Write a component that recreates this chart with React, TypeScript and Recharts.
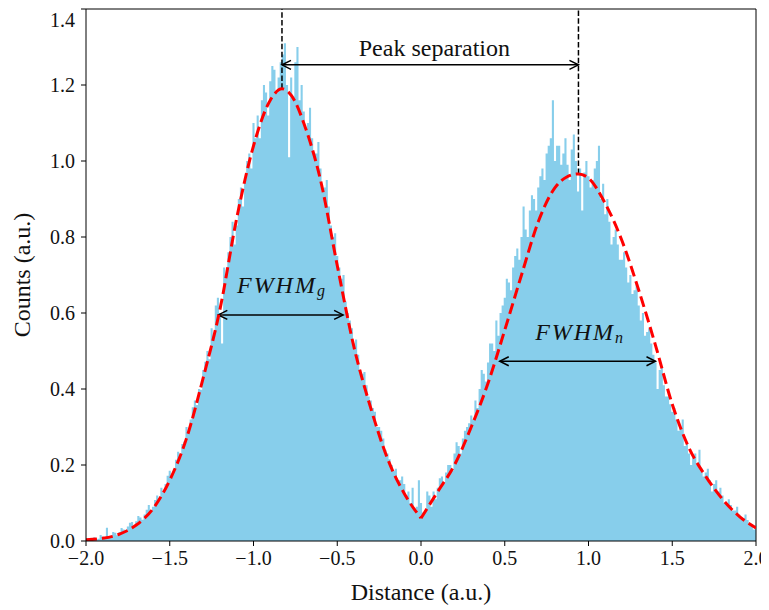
import { ComposedChart, Area, Line, XAxis, YAxis, ReferenceLine, ReferenceDot } from 'recharts';

// histogram: bin centres from -2.0 to 2.0, step 0.0125
const histStart = -2;
const histStep = 0.0125;
const histCounts = [
  0.006, 0.003, 0.004, 0.008, 0.010, 0.004, 0.006, 0.016, 0.012, 0.006,
  0.035, 0.012, 0.014, 0.024, 0.022, 0.015, 0.024, 0.034, 0.030, 0.026,
  0.038, 0.048, 0.050, 0.040, 0.052, 0.066, 0.062, 0.056, 0.070, 0.082,
  0.095, 0.080, 0.090, 0.108, 0.120, 0.112, 0.140, 0.128, 0.150, 0.172,
  0.185, 0.168, 0.190, 0.214, 0.235, 0.222, 0.255, 0.262, 0.300, 0.288,
  0.320, 0.352, 0.370, 0.358, 0.400, 0.398, 0.450, 0.472, 0.500, 0.478,
  0.560, 0.540, 0.620, 0.640, 0.600, 0.520, 0.720, 0.700, 0.760, 0.800,
  0.840, 0.780, 0.830, 0.900, 0.930, 0.880, 0.950, 1.000, 1.020, 0.980,
  1.100, 1.060, 1.120, 1.060, 1.160, 1.200, 1.180, 1.120, 1.210, 1.250,
  1.240, 1.180, 1.220, 1.260, 1.280, 1.310, 1.200, 1.010, 1.220, 1.170,
  1.260, 1.300, 1.160, 1.200, 1.130, 1.080, 1.100, 1.140, 1.060, 1.020,
  1.020, 1.050, 0.980, 0.920, 0.930, 0.950, 0.880, 0.830, 0.800, 0.810,
  0.750, 0.720, 0.690, 0.700, 0.630, 0.600, 0.580, 0.560, 0.520, 0.530,
  0.490, 0.450, 0.440, 0.445, 0.410, 0.380, 0.370, 0.350, 0.340, 0.300,
  0.300, 0.290, 0.270, 0.240, 0.230, 0.215, 0.200, 0.185, 0.190, 0.160,
  0.160, 0.170, 0.150, 0.120, 0.130, 0.100, 0.140, 0.085, 0.090, 0.160,
  0.100, 0.075, 0.080, 0.130, 0.120, 0.090, 0.130, 0.110, 0.140, 0.165,
  0.170, 0.150, 0.180, 0.200, 0.200, 0.185, 0.230, 0.260, 0.250, 0.230,
  0.270, 0.290, 0.300, 0.310, 0.330, 0.320, 0.370, 0.350, 0.400, 0.450,
  0.440, 0.420, 0.470, 0.520, 0.520, 0.500, 0.580, 0.540, 0.600, 0.620,
  0.640, 0.690, 0.680, 0.660, 0.720, 0.750, 0.770, 0.740, 0.800, 0.880,
  0.820, 0.800, 0.870, 0.910, 0.900, 0.870, 0.930, 0.960, 0.980, 0.950,
  1.020, 1.040, 1.060, 1.160, 1.000, 1.040, 1.040, 0.990, 1.020, 1.060,
  0.990, 0.950, 1.030, 1.070, 1.000, 0.920, 0.980, 0.870, 0.970, 1.000,
  0.960, 0.930, 0.950, 0.980, 1.000, 1.040, 0.900, 0.940, 0.860, 0.900,
  0.840, 0.780, 0.800, 0.820, 0.780, 0.740, 0.740, 0.760, 0.720, 0.680,
  0.700, 0.650, 0.660, 0.680, 0.620, 0.580, 0.600, 0.540, 0.550, 0.560,
  0.520, 0.490, 0.470, 0.400, 0.450, 0.460, 0.410, 0.380, 0.380, 0.360,
  0.340, 0.350, 0.320, 0.290, 0.300, 0.320, 0.250, 0.260, 0.230, 0.200,
  0.220, 0.230, 0.200, 0.240, 0.190, 0.170, 0.180, 0.190, 0.160, 0.130,
  0.150, 0.160, 0.130, 0.140, 0.120, 0.100, 0.100, 0.110, 0.095, 0.080,
  0.080, 0.090, 0.070, 0.060, 0.060, 0.070, 0.055, 0.045, 0.045, 0.030,
  0.040,
];

// fitted curve, left and right halves meet at the valley
const fitLeftX = [-2.0, -1.9, -1.8, -1.7, -1.6, -1.5, -1.4, -1.3, -1.2, -1.1, -1.0, -0.9, -0.83, -0.75, -0.7, -0.6, -0.5, -0.4, -0.3, -0.2, -0.1, 0];
const fitLeftY = [0.003, 0.007, 0.018, 0.042, 0.085, 0.16, 0.27, 0.43, 0.61, 0.85, 1.04, 1.16, 1.19, 1.155, 1.10, 0.95, 0.725, 0.51, 0.35, 0.217, 0.125, 0.06];
const fitRightX = [0, 0.1, 0.2, 0.3, 0.4, 0.5, 0.6, 0.7, 0.8, 0.87, 0.94, 1.0, 1.1, 1.2, 1.3, 1.4, 1.5, 1.6, 1.7, 1.8, 1.9, 2.0];
const fitRightY = [0.06, 0.13, 0.20, 0.30, 0.415, 0.555, 0.70, 0.84, 0.93, 0.958, 0.966, 0.955, 0.888, 0.79, 0.66, 0.515, 0.36, 0.245, 0.17, 0.11, 0.065, 0.034];

// annotations
const peakG = { x: -0.83, y: 1.19 };
const peakN = { x: 0.94, y: 0.966 };
const sepArrowY = 1.253;
const fwhmG = { x1: -1.21, x2: -0.465, y: 0.595 };
const fwhmN = { x1: 0.47, x2: 1.4, y: 0.473 };
const xTicks = [-2, -1.5, -1, -0.5, 0, 0.5, 1, 1.5, 2];
const yTicks = [0, 0.2, 0.4, 0.6, 0.8, 1.0, 1.2, 1.4];

const FONT = '"Liberation Serif", "DejaVu Serif", serif';

const histData = histCounts.map((c, i) => ({ x: +(histStart + i * histStep).toFixed(4), y: c }));
const fitLeft = fitLeftX.map((x, i) => ({ x, y: fitLeftY[i] }));
const fitRight = fitRightX.map((x, i) => ({ x, y: fitRightY[i] }));

const fmt = (v: number) => (v < 0 ? '\u2212' : '') + Math.abs(v).toFixed(1);

const DoubleArrow = (props: any) => {
  const { x1, y1, x2, y2 } = props;
  const h = 9;
  const w = 4.5;
  return (
    <g stroke="#000" strokeWidth={1.5} fill="none">
      <line x1={x1} y1={y1} x2={x2} y2={y2} />
      <polyline points={`${x1 + h},${y1 - w} ${x1},${y1} ${x1 + h},${y1 + w}`} />
      <polyline points={`${x2 - h},${y2 - w} ${x2},${y2} ${x2 - h},${y2 + w}`} />
    </g>
  );
};

const textShape = (label: string) => (props: any) => (
  <text x={props.cx} y={props.cy} textAnchor="middle" dominantBaseline="central"
    fontFamily={FONT} fontSize={24} fill="#111">{label}</text>
);

const fwhmShape = (sub: string) => (props: any) => (
  <text x={props.cx} y={props.cy} textAnchor="middle" dominantBaseline="central"
    fontFamily={FONT} fontSize={24} fontStyle="italic" fill="#111" letterSpacing={2}>
    FWHM<tspan fontSize={16} dy={5}>{sub}</tspan>
  </text>
);

export default function App() {
  return (
    <div style={{ width: 761, height: 600 }}>
      <ComposedChart width={761} height={600} margin={{ top: 1, right: 13, left: 0, bottom: 0 }}>
        <XAxis
          dataKey="x"
          type="number"
          domain={[-2, 2]}
          ticks={xTicks}
          tickFormatter={fmt}
          allowDataOverflow
          height={67}
          stroke="#000"
          tickSize={5}
          tickMargin={5}
          tick={{ fill: '#111', fontSize: 20, fontFamily: FONT }}
          label={(p: any) => (
            <text x={p.viewBox.x + p.viewBox.width / 2} y={p.viewBox.y + 51} textAnchor="middle"
              dominantBaseline="central" fontFamily={FONT} fontSize={24} fill="#111">Distance (a.u.)</text>
          )}
        />
        <YAxis
          type="number"
          domain={[0, 1.4]}
          ticks={yTicks}
          tickFormatter={(v: number) => v.toFixed(1)}
          allowDataOverflow
          width={78}
          stroke="#000"
          tickSize={5}
          tickMargin={6}
          tick={{ fill: '#111', fontSize: 20, fontFamily: FONT }}
          label={(p: any) => {
            const cx = p.viewBox.x + 14;
            const cy = p.viewBox.y + p.viewBox.height / 2;
            return (
              <text x={cx} y={cy} transform={`rotate(-90, ${cx}, ${cy})`} textAnchor="middle"
                dominantBaseline="central" fontFamily={FONT} fontSize={24} fill="#111">Counts (a.u.)</text>
            );
          }}
        />
        <Area data={histData} dataKey="y" type="step" stroke="none" fill="#87CEEB" fillOpacity={1} isAnimationActive={false} />
        <ReferenceLine y={1.4} stroke="#000" />
        <ReferenceLine x={2} stroke="#000" />
        <ReferenceLine segment={[{ x: peakG.x, y: peakG.y }, { x: peakG.x, y: 1.4 }]} stroke="#000" strokeWidth={1.5} strokeDasharray="5.5 2.4" />
        <ReferenceLine segment={[{ x: peakN.x, y: peakN.y }, { x: peakN.x, y: 1.4 }]} stroke="#000" strokeWidth={1.5} strokeDasharray="5.5 2.4" />
        <ReferenceLine segment={[{ x: peakG.x, y: sepArrowY }, { x: peakN.x, y: sepArrowY }]} shape={DoubleArrow} />
        <ReferenceLine segment={[{ x: fwhmG.x1, y: fwhmG.y }, { x: fwhmG.x2, y: fwhmG.y }]} shape={DoubleArrow} />
        <ReferenceLine segment={[{ x: fwhmN.x1, y: fwhmN.y }, { x: fwhmN.x2, y: fwhmN.y }]} shape={DoubleArrow} />
        <Line data={fitLeft} dataKey="y" type="monotone" stroke="#ff0000" strokeWidth={3} strokeDasharray="11 5" dot={false} isAnimationActive={false} />
        <Line data={fitRight} dataKey="y" type="monotone" stroke="#ff0000" strokeWidth={3} strokeDasharray="11 5" dot={false} isAnimationActive={false} />
        <ReferenceDot x={0.08} y={1.297} r={0} shape={textShape('Peak separation')} />
        <ReferenceDot x={-0.83} y={0.675} r={0} shape={fwhmShape('g')} />
        <ReferenceDot x={0.95} y={0.55} r={0} shape={fwhmShape('n')} />
      </ComposedChart>
    </div>
  );
}
